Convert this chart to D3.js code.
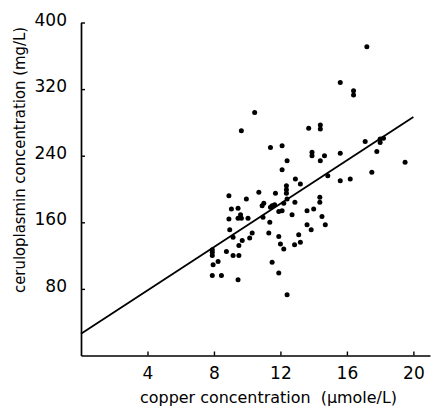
<!DOCTYPE html>
<html>
<head>
<meta charset="utf-8">
<script src="https://cdn.jsdelivr.net/npm/d3@7"></script>
<style>
  html, body { margin: 0; padding: 0; background: #fff; }
  text { font-family: "DejaVu Sans", sans-serif; fill: #000; }
</style>
</head>
<body>
<div id="chart"></div>
<script>
// Data
const copper = [17.2, 15.6, 16.4, 16.4, 10.45, 9.65, 13.7, 14.4, 14.4, 17.1,
  18.0, 18.2, 18.0, 17.8, 11.4, 12.1, 15.6, 13.9, 13.9, 14.65,
  14.4, 12.4, 19.5, 17.5, 14.85, 12.1, 15.6, 16.2, 12.9, 13.2,
  12.36, 12.36, 12.36, 12.4, 10.7, 11.7, 8.9, 9.95, 14.37, 14.37,
  12.87, 12.2, 11.0, 10.9, 11.5, 11.65, 11.4, 12.1, 11.9, 13.6,
  14.0, 12.7, 9.05, 9.45, 9.45, 9.6, 9.65, 8.9, 10.05, 10.95,
  14.5, 11.36, 13.6, 14.7, 13.85, 8.95, 10.3, 11.3, 10.15, 9.15,
  11.9, 13.1, 9.7, 13.2, 9.5, 12.85, 12.0, 12.2, 7.9, 7.9,
  7.9, 8.75, 9.15, 9.5, 8.25, 7.95, 11.5, 7.9, 8.45, 11.9,
  9.45, 12.4];
const ceruloplasmin = [371, 328, 318, 313, 292, 270, 273, 277, 272, 257,
  256, 261, 260, 245, 250, 252, 243, 244, 240, 240,
  234, 234, 232, 220, 216, 223, 210, 212, 212, 206,
  204, 199, 195, 188, 196, 195, 192, 188, 190, 184,
  184, 183, 183, 180, 180, 181, 178, 174, 173, 174,
  176, 169, 176, 177, 165, 169, 165, 164, 165, 166,
  167, 160, 157, 157, 151, 151, 147, 147, 141, 142,
  143, 145, 138, 136, 132, 133, 134, 128, 127, 124,
  120, 125, 120, 120, 113, 109, 112, 96, 96, 99,
  91, 73];
const xTicks = [4, 8, 12, 16, 20];
const yTicks = [80, 160, 240, 320, 400];
// fitted line
const intercept = 26, slope = 13.03, lineRange = [0, 20];

const width = 433, height = 409;

const svg = d3.select("#chart")
  .append("svg")
  .attr("width", width)
  .attr("height", height);

const x = d3.scaleLinear().domain([0, 21]).range([81, 430]);
const y = d3.scaleLinear().domain([0, 400]).range([355.5, 22.5]);

// Axes
const xAxis = svg.append("g")
  .attr("transform", `translate(0, ${y(0)})`)
  .call(d3.axisBottom(x).tickValues(xTicks).tickFormat(d3.format("d"))
    .tickSizeInner(-4).tickSizeOuter(0).tickPadding(11));

const yAxis = svg.append("g")
  .attr("transform", `translate(${x(0)}, 0)`)
  .call(d3.axisLeft(y).tickValues(yTicks).tickFormat(d3.format("d"))
    .tickSizeInner(-4).tickSizeOuter(0).tickPadding(14));

[xAxis, yAxis].forEach(g => {
  g.select(".domain").attr("stroke", "#000").attr("stroke-width", 1.7);
  g.selectAll(".tick line").attr("stroke", "#000").attr("stroke-width", 1.4);
  g.selectAll(".tick text")
    .style("font-size", "17px")
    .attr("fill", "#000");
});
yAxis.selectAll(".tick text").attr("dy", "0.15em");

// Regression line
svg.append("line")
  .attr("x1", x(lineRange[0]))
  .attr("y1", y(intercept + slope * lineRange[0]))
  .attr("x2", x(lineRange[1]))
  .attr("y2", y(intercept + slope * lineRange[1]))
  .attr("stroke", "#000")
  .attr("stroke-width", 1.8);

// Points
svg.selectAll("circle")
  .data(copper.map((c, i) => ({ c: c, p: ceruloplasmin[i] })))
  .enter()
  .append("circle")
  .attr("cx", d => x(d.c))
  .attr("cy", d => y(d.p))
  .attr("r", 2.5)
  .attr("fill", "#000");

// Axis titles
svg.append("text")
  .attr("x", 140)
  .attr("y", 403)
  .attr("textLength", 257)
  .attr("lengthAdjust", "spacingAndGlyphs")
  .style("font-size", "15px")
  .style("white-space", "pre")
  .text("copper concentration  (\u03BCmole/L)");

svg.append("text")
  .attr("transform", "translate(25, 293) rotate(-90)")
  .attr("textLength", 266)
  .attr("lengthAdjust", "spacingAndGlyphs")
  .style("font-size", "15px")
  .text("ceruloplasmin concentration (mg/L)");
</script>
</body>
</html>
